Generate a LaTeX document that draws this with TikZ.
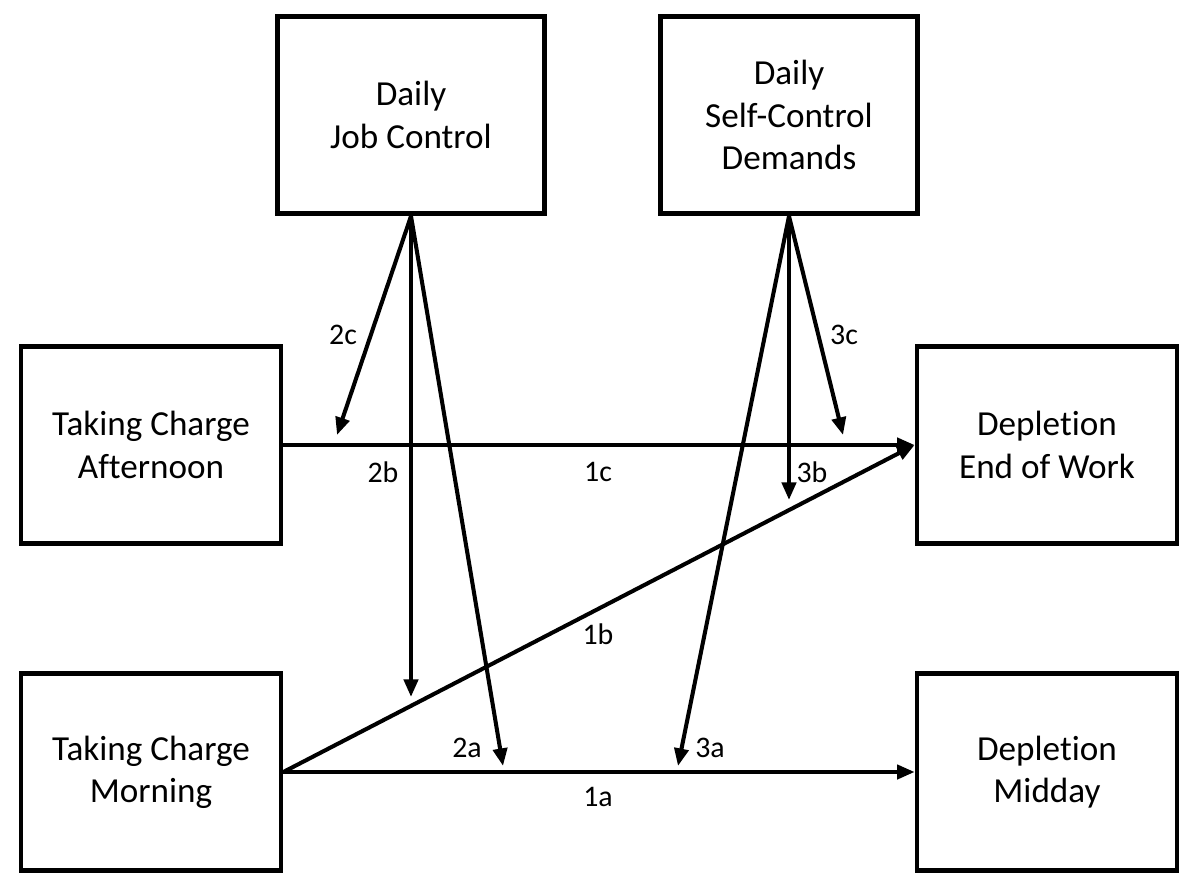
\documentclass[tikz,border=0pt]{standalone}
\usepackage{fontspec}
\setmainfont{Carlito}[Ligatures=NoCommon]
\usetikzlibrary{arrows.meta}

\begin{document}
\begin{tikzpicture}[x=0.02cm,y=-0.02cm,
    box/.style={draw,line width=2.7pt,minimum width=5.2cm,minimum height=3.95cm,
      align=center,inner sep=0pt,font=\fontsize{20}{24}\selectfont},
    path/.style={line width=2.3pt,-{Triangle[length=10pt,width=8pt]}},
    lbl/.style={inner sep=0pt,font=\fontsize{17}{20}\selectfont}]
  \useasboundingbox (0,0) rectangle (1200,891);
  % moderators on top
  \node[box,minimum width=5.34cm] (jc) at (411,115) {Daily\\Job Control};
  \node[box,minimum width=5.14cm] (sc) at (789,115) {Daily\\Self-Control\\Demands};
  % predictors left, outcomes right
  \node[box] (tca) at (151,445) {Taking Charge\\Afternoon};
  \node[box] (tcm) at (151,772) {Taking Charge\\Morning};
  \node[box] (dew) at (1047,445) {Depletion\\End of Work};
  \node[box] (dmd) at (1047,772) {Depletion\\Midday};
  % main paths 1a, 1b, 1c
  \draw[path] (tca.east) -- (dew.west);
  \draw[path] (tcm.east) -- (dew.west);
  \draw[path] (tcm.east) -- (dmd.west);
  % free ends of moderator arrows
  \coordinate (e2c) at (337,435);
  \coordinate (e2b) at (411,697);
  \coordinate (e2a) at (503,766);
  \coordinate (e3c) at (843,435);
  \coordinate (e3b) at (789,500);
  \coordinate (e3a) at (678,766);
  \draw[path] (jc.south) -- (e2c);
  \draw[path] (jc.south) -- (e2b);
  \draw[path] (jc.south) -- (e2a);
  \draw[path] (sc.south) -- (e3c);
  \draw[path] (sc.south) -- (e3b);
  \draw[path] (sc.south) -- (e3a);
  % path labels
  \node[lbl] (l1a) at (598,797) {1a};
  \node[lbl] (l1b) at (598,634) {1b};
  \node[lbl] (l1c) at (598,472) {1c};
  \node[lbl] (l2a) at (467,748) {2a};
  \node[lbl] (l2b) at (383,472) {2b};
  \node[lbl] (l2c) at (343,335) {2c};
  \node[lbl] (l3a) at (710,748) {3a};
  \node[lbl] (l3b) at (812,472) {3b};
  \node[lbl] (l3c) at (844,335) {3c};
\end{tikzpicture}
\end{document}
